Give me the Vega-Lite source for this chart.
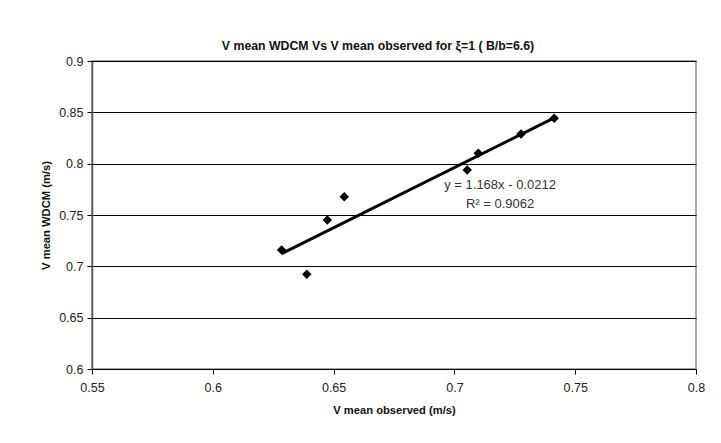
{
  "$schema": "https://vega.github.io/schema/vega-lite/v6.json",
  "width": 604,
  "height": 308,
  "autosize": {"type": "none"},
  "padding": {"left": 92, "top": 61, "right": 25, "bottom": 74},
  "background": "white",
  "title": {
    "text": "V mean WDCM Vs V mean observed for ξ=1 ( B/b=6.6)",
    "font": "Liberation Sans",
    "fontSize": 12.3,
    "fontWeight": "bold",
    "color": "#111111",
    "anchor": "middle",
    "dx": -16,
    "offset": 3
  },
  "config": {
    "font": "Liberation Sans",
    "view": {"stroke": "#8a8a8a", "strokeWidth": 1.5}
  },
  "datasets": {
    "points": [
      {"observed": 0.6285, "wdcm": 0.7159},
      {"observed": 0.6389, "wdcm": 0.6922},
      {"observed": 0.6474, "wdcm": 0.7451},
      {"observed": 0.6544, "wdcm": 0.7678},
      {"observed": 0.7053, "wdcm": 0.7938},
      {"observed": 0.7099, "wdcm": 0.8101},
      {"observed": 0.7276, "wdcm": 0.8289},
      {"observed": 0.7413, "wdcm": 0.8442}
    ],
    "eq": [
      {"observed": 0.7189, "wdcm": 0.7855, "label": "y = 1.168x - 0.0212\nR² = 0.9062"}
    ]
  },
  "layer": [
    {
      "data": {"name": "points"},
      "mark": {"type": "point", "shape": "diamond", "filled": true, "color": "black", "size": 90, "opacity": 1},
      "encoding": {
        "x": {
          "field": "observed",
          "type": "quantitative",
          "scale": {"domain": [0.55, 0.8], "zero": false, "nice": false},
          "axis": {
            "title": "V mean observed (m/s)",
            "values": [0.55, 0.6, 0.65, 0.7, 0.75, 0.8],
            "format": "~g",
            "grid": false,
            "domainColor": "#000000",
            "tickColor": "#000000",
            "tickSize": 5,
            "labelPadding": 7,
            "labelFontSize": 12.5,
            "labelColor": "#222222",
            "labelFlush": false,
            "titleFontSize": 11.2,
            "titleFontWeight": "bold",
            "titleColor": "#111111",
            "titlePadding": 11
          }
        },
        "y": {
          "field": "wdcm",
          "type": "quantitative",
          "scale": {"domain": [0.6, 0.9], "zero": false, "nice": false},
          "axis": {
            "title": "V mean WDCM (m/s)",
            "values": [0.6, 0.65, 0.7, 0.75, 0.8, 0.85, 0.9],
            "format": "~g",
            "grid": true,
            "gridColor": "#000000",
            "gridOpacity": 1,
            "gridWidth": 1,
            "domainColor": "#555555",
            "domainWidth": 1.5,
            "tickColor": "#000000",
            "tickSize": 5,
            "labelPadding": 4,
            "labelFontSize": 12.5,
            "labelColor": "#222222",
            "labelFlush": false,
            "titleFontSize": 11.2,
            "titleFontWeight": "bold",
            "titleColor": "#111111",
            "titlePadding": 7
          }
        }
      }
    },
    {
      "data": {"name": "points"},
      "transform": [{"regression": "wdcm", "on": "observed", "extent": [0.6285, 0.7413]}],
      "mark": {"type": "line", "color": "black", "strokeWidth": 3},
      "encoding": {
        "x": {"field": "observed", "type": "quantitative"},
        "y": {"field": "wdcm", "type": "quantitative"}
      }
    },
    {
      "data": {"name": "eq"},
      "mark": {"type": "text", "align": "center", "baseline": "top", "lineBreak": "\n", "lineHeight": 19, "fontSize": 13, "color": "#333333"},
      "encoding": {
        "x": {"field": "observed", "type": "quantitative"},
        "y": {"field": "wdcm", "type": "quantitative"},
        "text": {"field": "label"}
      }
    }
  ]
}
